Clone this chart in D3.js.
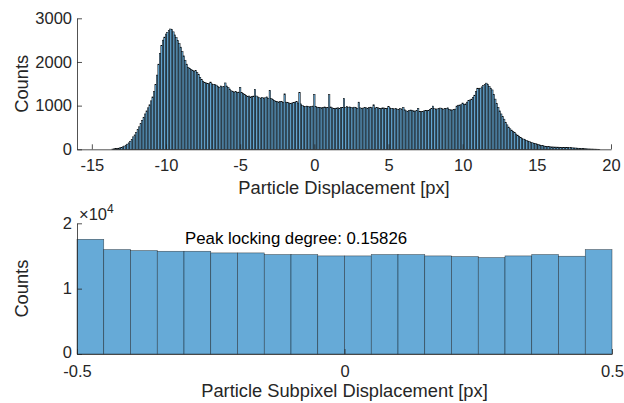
<!DOCTYPE html>
<html><head><meta charset="utf-8">
<script src="https://cdn.jsdelivr.net/npm/d3@7"></script>
<style>
body{margin:0;background:#fff;}
svg{display:block;font-family:"Liberation Sans",Arial,sans-serif;}
</style></head>
<body><svg id="chart" width="624" height="403"></svg>
<script>
// ---- Top histogram: Particle Displacement [px] ----
const topBinStart = -13.65;   // left edge of first bin
const topBinWidth = 0.1;
const topCounts = [
  6,10,14,19,26,34,
  45,58,74,95,118,148,185,228,285,330,
  385,450,515,590,665,735,810,880,950,1020,
  1110,1200,1320,1480,1700,1950,2200,2380,2500,2570,
  2640,2680,2720,2755,2740,2690,2620,2560,2490,2420,
  2340,2240,2140,2040,1950,1880,1850,1830,1810,1790,
  1800,1760,1720,1650,1600,1560,1530,1520,1510,1500,
  1540,1500,1490,1480,1470,1440,1420,1450,1430,1440,
  1520,1450,1420,1380,1340,1330,1310,1320,1300,1310,
  1420,1300,1280,1250,1230,1210,1220,1200,1210,1220,
  1375,1220,1200,1180,1170,1190,1160,1180,1200,1170,
  1350,1160,1140,1120,1100,1090,1080,1100,1090,1070,
  1270,1080,1070,1060,1050,1060,1070,1080,1090,1060,
  1300,1040,1000,975,980,990,985,970,980,990,
  1260,980,965,955,960,950,960,970,955,960,
  1250,970,950,940,935,945,950,930,955,960,
  1165,960,975,965,970,960,950,965,955,940,
  1080,950,935,945,960,950,940,955,965,950,
  1020,945,960,950,935,940,950,945,930,940,
  980,950,940,930,925,935,920,910,930,920,
  960,905,880,870,890,900,895,880,875,890,
  940,870,860,865,880,890,885,895,910,930,
  990,930,915,925,935,945,930,920,940,930,
  950,915,905,900,910,920,990,1010,1015,1020,
  1060,1030,1040,1080,1120,1130,1150,1190,1240,1320,
  1400,1390,1400,1430,1460,1480,1515,1480,1440,1400,
  1360,1260,1150,1050,960,880,810,750,690,620,
  560,510,470,440,410,380,350,325,300,275,
  255,235,220,205,190,175,160,150,140,130,
  122,112,100,90,82,75,70,64,60,57,
  55,53,52,50,50,48,47,45,44,43,
  42,40,38,36,34,32,30,28,25,22,
  20,17,14,12,10,8,7,6,5,4,
  3,2,1
];
const topXTicks = [-15,-10,-5,0,5,10,15,20];
const topYTicks = [0,1000,2000,3000];

// ---- Bottom histogram: Particle Subpixel Displacement [px] ----
const subBinStart = -0.5;
const subBinWidth = 0.05;
const subCounts = [17550,15980,15830,15720,15720,15470,15470,15220,15220,15010,
                   15010,15220,15220,15010,14910,14760,15010,15220,14960,15980];
const subXTicks = [-0.5,0,0.5];
const subXTickLabels = ["-0.5","0","0.5"];
const subYTicks = [0,10000,20000];
const subYTickLabels = ["0","1","2"];
const peakText = "Peak locking degree: 0.15826";

const axisColor = "#262626";
const barFill = "#66aad7";
const svg = d3.select("#chart");
const plain = d => String(d);   // hyphen minus, no thousands separator

function styleAxis(g){
  g.select(".domain").attr("stroke",axisColor).attr("stroke-width",0.8);
  g.selectAll(".tick line").attr("stroke",axisColor).attr("stroke-width",0.8);
  g.selectAll(".tick text").attr("fill",axisColor).attr("font-size","16.5px")
    .attr("font-family","'Liberation Sans',Arial,sans-serif");
}

// ===== Top panel =====
const t = {left:77,right:611,top:18.3,bottom:149.3};
const xT = d3.scaleLinear().domain([-16,20]).range([t.left,t.right]);
const yT = d3.scaleLinear().domain([0,3000]).range([t.bottom,t.top]);

const topBins = topCounts.map((c,i)=>({x0:topBinStart+i*topBinWidth,x1:topBinStart+(i+1)*topBinWidth,c}));
svg.append("g").selectAll("rect").data(topBins).join("rect")
  .attr("x",d=>xT(d.x0)).attr("width",d=>xT(d.x1)-xT(d.x0))
  .attr("y",d=>yT(d.c)).attr("height",d=>yT(0)-yT(d.c))
  .attr("fill",barFill).attr("stroke","#000").attr("stroke-width",0.5);

const gxT = svg.append("g").attr("transform",`translate(0,${t.bottom})`)
  .call(d3.axisBottom(xT).tickValues(topXTicks).tickFormat(plain).tickSizeInner(-5).tickSizeOuter(0).tickPadding(10));
styleAxis(gxT);
const gyT = svg.append("g").attr("transform",`translate(${t.left},0)`)
  .call(d3.axisLeft(yT).tickValues(topYTicks).tickFormat(plain).tickSizeInner(-5).tickSizeOuter(0).tickPadding(5));
styleAxis(gyT);

svg.append("text").attr("x",(t.left+t.right)/2).attr("y",193.5).attr("text-anchor","middle")
  .attr("font-size","18.3px").attr("fill",axisColor).text("Particle Displacement [px]");
svg.append("text").attr("transform",`translate(28,${(t.top+t.bottom)/2}) rotate(-90)`)
  .attr("text-anchor","middle").attr("font-size","18.3px").attr("fill",axisColor).text("Counts");

// ===== Bottom panel =====
const b = {left:77,right:612,top:223.3,bottom:354};
const xB = d3.scaleLinear().domain([-0.5,0.5]).range([b.left,b.right]);
const yB = d3.scaleLinear().domain([0,20000]).range([b.bottom,b.top]);

const subBins = subCounts.map((c,i)=>({x0:subBinStart+i*subBinWidth,x1:subBinStart+(i+1)*subBinWidth,c}));
svg.append("g").selectAll("rect").data(subBins).join("rect")
  .attr("x",d=>xB(d.x0)).attr("width",d=>xB(d.x1)-xB(d.x0))
  .attr("y",d=>yB(d.c)).attr("height",d=>yB(0)-yB(d.c))
  .attr("fill",barFill).attr("stroke","#000").attr("stroke-opacity",0.6).attr("stroke-width",0.6);

const gxB = svg.append("g").attr("transform",`translate(0,${b.bottom})`)
  .call(d3.axisBottom(xB).tickValues(subXTicks).tickFormat((d,i)=>subXTickLabels[i]).tickSizeInner(-5).tickSizeOuter(0).tickPadding(11));
styleAxis(gxB);
const gyB = svg.append("g").attr("transform",`translate(${b.left},0)`)
  .call(d3.axisLeft(yB).tickValues(subYTicks).tickFormat((d,i)=>subYTickLabels[i]).tickSizeInner(-5).tickSizeOuter(0).tickPadding(5));
styleAxis(gyB);
gyB.selectAll(".tick text").filter(d=>d===0).attr("dy","0.2em");

const expo = svg.append("text").attr("x",79).attr("y",220).attr("font-size","16.5px").attr("fill",axisColor);
expo.append("tspan").text("\u00d710");
expo.append("tspan").attr("dy",-7).attr("font-size","12px").text("4");

svg.append("text").attr("x",xB(-0.298)).attr("y",244).attr("font-size","16.8px").attr("fill","#000").text(peakText);

svg.append("text").attr("x",(b.left+b.right)/2).attr("y",397).attr("text-anchor","middle")
  .attr("font-size","18.3px").attr("fill",axisColor).text("Particle Subpixel Displacement [px]");
svg.append("text").attr("transform",`translate(28,${(b.top+b.bottom)/2}) rotate(-90)`)
  .attr("text-anchor","middle").attr("font-size","18.3px").attr("fill",axisColor).text("Counts");
</script></body></html>
